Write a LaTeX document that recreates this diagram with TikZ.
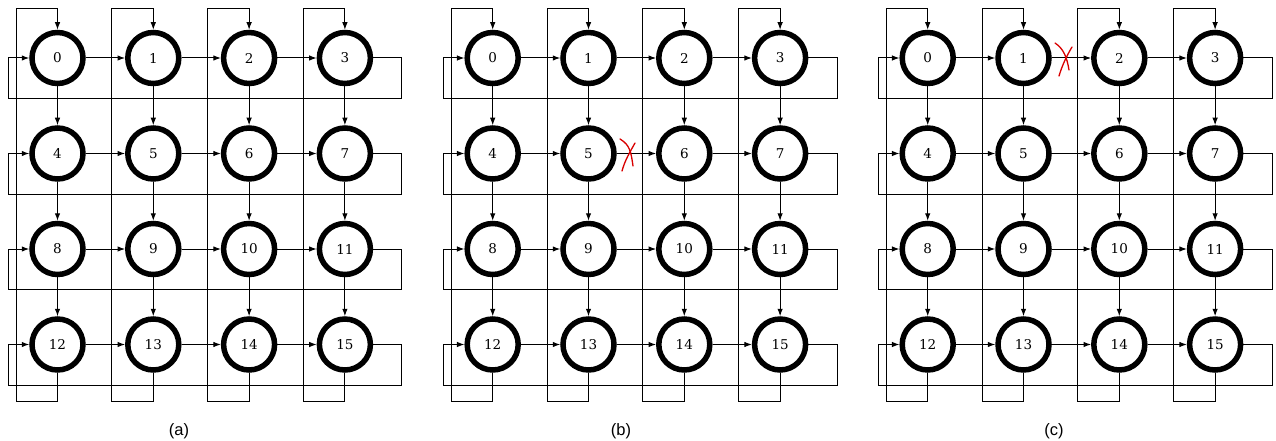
\documentclass[tikz,border=0pt]{standalone}
\usepackage{fontspec}
\setmainfont{DejaVu Serif}
\newfontfamily\capfont{Liberation Sans}
\usetikzlibrary{arrows.meta,calc}
\tikzset{
  pe/.style={circle,draw=black,line width=5.5pt,minimum size=51pt,inner sep=0pt,outer sep=2.75pt,
    font=\fontsize{13.5}{14}\selectfont},
  conn/.style={line width=1pt,-{Latex[length=7.5pt,width=5.5pt]}},
  wrap/.style={line width=1pt,-{Latex[length=7.5pt,width=5.5pt]}},
  panelcap/.style={font=\capfont\fontsize{16.5}{18}\selectfont},
  redmark/.style={draw=red!85!black,line width=1.3pt,line cap=round},
}
\begin{document}
\begin{tikzpicture}[x=1pt,y=-1pt]
\useasboundingbox (0,0) rectangle (1276,441);
\foreach \p/\off in {a/0,b/435.2,c/870.2}{
  \foreach \i in {0,...,15}{
    \pgfmathtruncatemacro{\cc}{mod(\i,4)}
    \pgfmathtruncatemacro{\rr}{int(\i/4)}
    \node[pe] (\p-\i) at ({\off+57.5+\cc*95.8},{58+\rr*95.5}) {\i};
  }
  % horizontal links
  \foreach \r in {0,...,3}{
    \foreach \c in {0,1,2}{
      \pgfmathtruncatemacro{\s}{4*\r+\c}
      \pgfmathtruncatemacro{\t}{4*\r+\c+1}
      \draw[conn] (\p-\s.east) -- (\p-\t.west);
    }
    \pgfmathtruncatemacro{\k}{4*\r+3}
    \pgfmathtruncatemacro{\m}{4*\r}
    \draw[wrap] (\p-\k.east) -- ($(\p-\k.center)+(57,0)$) -- ($(\p-\k.center)+(57,40.5)$)
      -- ($(\p-\m.center)+(-49.5,40.5)$) -- ($(\p-\m.center)+(-49.5,0)$) -- (\p-\m.west);
  }
  % vertical links
  \foreach \i in {0,...,11}{
    \pgfmathtruncatemacro{\j}{\i+4}
    \draw[conn] (\p-\i.south) -- (\p-\j.north);
  }
  \foreach \c in {0,...,3}{
    \pgfmathtruncatemacro{\n}{12+\c}
    \draw[wrap] (\p-\n.south) -- ($(\p-\n.center)+(0,57.2)$) -- ($(\p-\n.center)+(-41.5,57.2)$)
      -- ($(\p-\c.center)+(-41.5,-49.7)$) -- ($(\p-\c.center)+(0,-49.7)$) -- (\p-\c.north);
  }
}
\node[panelcap] (la) at (179,431) {(a)};
\node[panelcap] (lb) at (621,431) {(b)};
\node[panelcap] (lc) at (1054,431) {(c)};
% red fault marks
\draw[redmark] (620,139) .. controls (630,145) and (631,152) .. (633,166);
\draw[redmark] (635,143) .. controls (630,152) and (625,160) .. (622,171);
\draw[redmark] (1055,43) .. controls (1064,49) and (1067,58) .. (1069,70);
\draw[redmark] (1072,47) .. controls (1066,57) and (1062,66) .. (1059,76);
\end{tikzpicture}
\end{document}
